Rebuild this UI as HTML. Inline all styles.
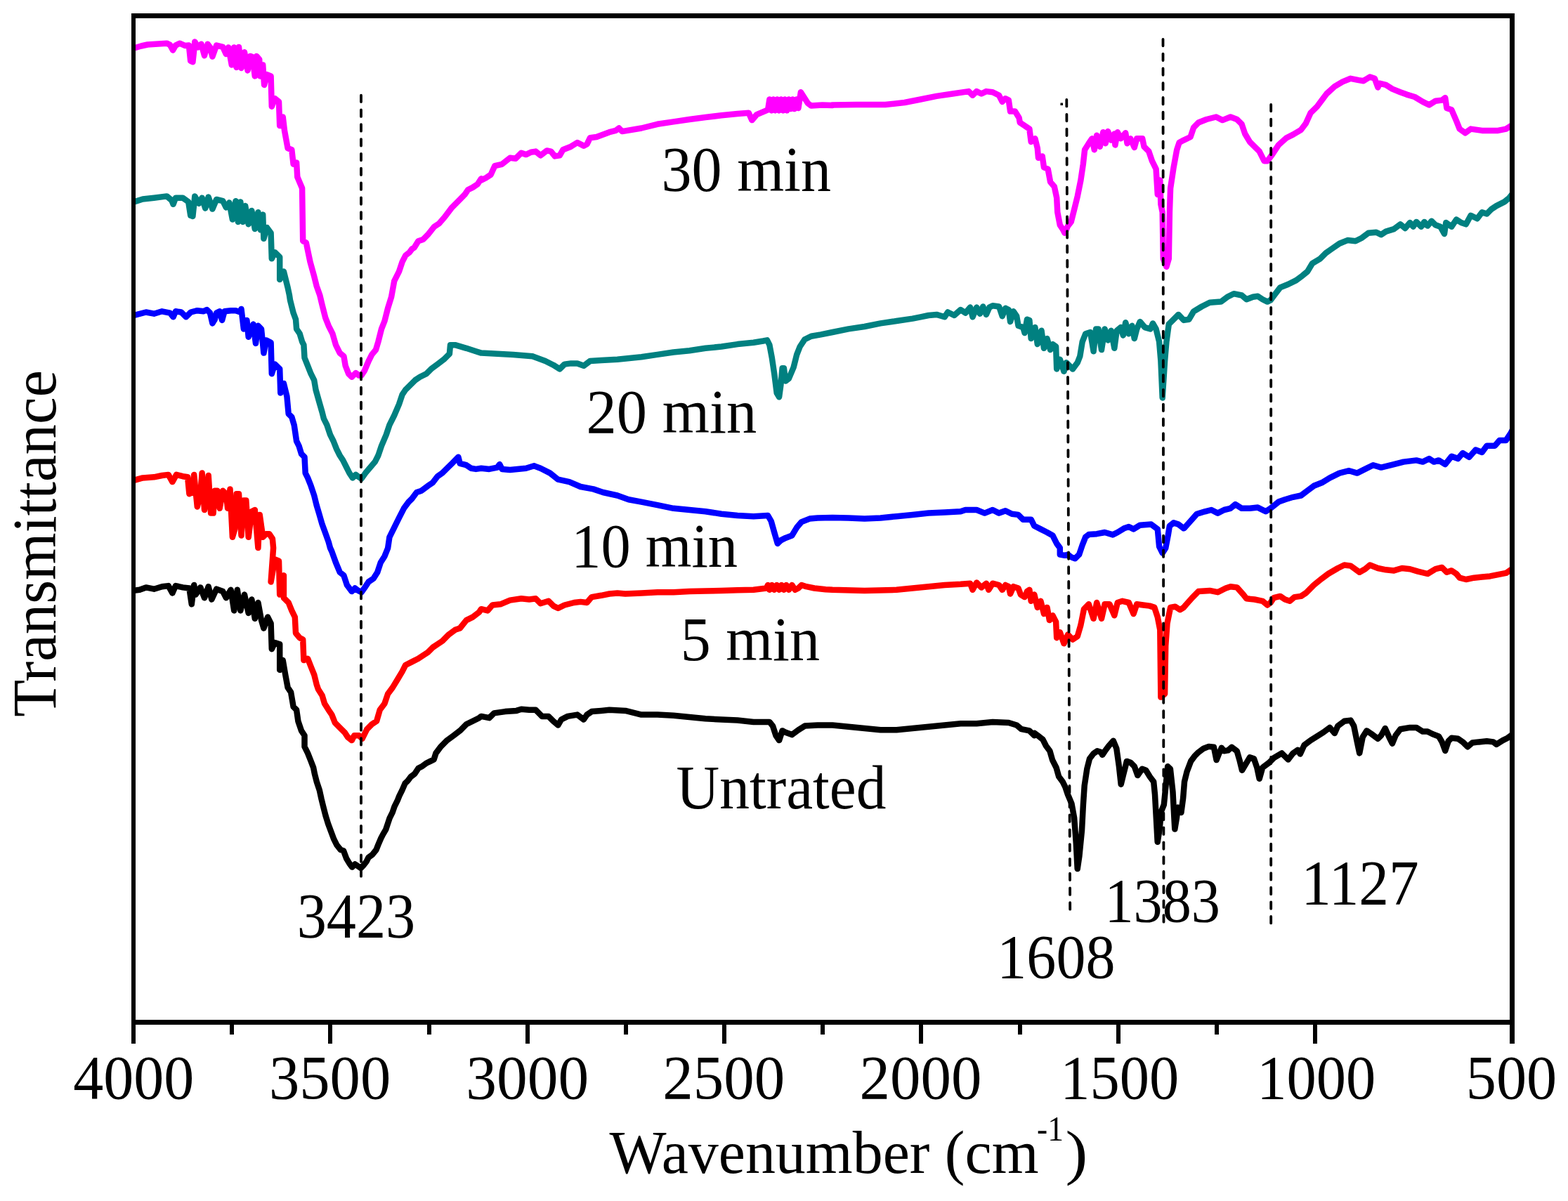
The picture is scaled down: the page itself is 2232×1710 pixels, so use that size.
<!DOCTYPE html><html><head><meta charset="utf-8"><title>FTIR spectra</title><style>html,body{margin:0;padding:0;background:#fff;}svg{display:block;}</style></head><body>
<svg width="2232" height="1710" viewBox="0 0 2232 1710">
<rect x="0" y="0" width="2232" height="1710" fill="#fff"/>
<defs><clipPath id="pa"><rect x="193" y="26" width="1956" height="1426"/></clipPath></defs>
<g clip-path="url(#pa)">
<path d="M190.7,840.9 L198.7,839.8 L207.8,836.4 L219.2,838.7 L230.6,835.2 L239.7,834.1 L245.4,844.4 L250.0,834.1 L260.2,836.4 L269.4,837.5 L272.8,860.3 L276.2,833.0 L278.5,846.6 L285.3,836.4 L291.0,851.2 L296.7,835.2 L301.3,853.5 L308.1,838.7 L317.2,842.1 L321.8,851.2 L328.6,839.8 L333.2,869.4 L337.8,839.8 L342.3,869.4 L348.0,846.6 L353.7,872.9 L358.3,853.5 L362.8,880.8 L367.4,858.0 L372.0,883.1 L375.4,894.5 L381.1,878.6 L385.6,887.7 L386.8,924.2 L391.3,915.0 L398.2,917.3 L398.2,953.8 L402.7,940.1 L406.2,960.6 L409.6,978.9 L414.1,985.7 L417.6,1006.2 L422.1,1010.8 L424.4,1026.8 L429.0,1040.4 L433.5,1047.3 L433.5,1063.2 L438.1,1072.4 L442.6,1083.8 L446.1,1092.9 L447.9,1101.9 L450.7,1112.8 L454.8,1125.1 L457.5,1137.5 L460.2,1148.4 L463.7,1162.1 L467.1,1173.0 L471.2,1184.0 L475.3,1194.9 L479.4,1203.1 L484.9,1210.0 L489.0,1211.3 L493.1,1222.3 L497.2,1229.1 L501.3,1234.6 L505.4,1230.5 L509.5,1233.2 L513.6,1236.0 L517.7,1231.8 L521.8,1226.4 L524.5,1220.9 L530.0,1216.8 L535.5,1210.0 L538.2,1203.1 L542.3,1193.5 L545.1,1188.1 L549.2,1181.2 L551.9,1173.0 L554.6,1164.8 L558.7,1156.6 L561.5,1148.4 L565.6,1140.2 L568.3,1133.4 L572.4,1125.1 L576.5,1115.6 L580.6,1111.5 L584.7,1106.0 L590.2,1101.9 L595.7,1093.7 L601.1,1090.9 L606.6,1086.8 L612.1,1084.1 L617.6,1081.4 L620.5,1072.4 L627.3,1063.2 L636.4,1054.1 L645.6,1047.3 L654.7,1040.4 L663.8,1031.3 L672.9,1026.8 L682.0,1022.2 L685.0,1019.9 L696.4,1022.2 L703.2,1015.4 L719.2,1013.1 L735.2,1011.9 L742.0,1009.7 L753.4,1010.8 L762.5,1010.8 L771.6,1019.9 L780.8,1019.9 L787.6,1026.8 L794.4,1032.5 L799.0,1024.5 L808.1,1019.9 L821.8,1017.6 L830.9,1024.5 L835.5,1017.6 L842.3,1013.1 L856.0,1011.9 L867.4,1010.8 L890.2,1011.9 L913.0,1017.6 L935.8,1017.6 L958.6,1018.8 L981.4,1021.1 L1004.2,1023.3 L1027.0,1024.5 L1049.8,1025.6 L1072.6,1027.9 L1095.4,1027.9 L1100.0,1033.6 L1104.5,1047.3 L1109.1,1054.1 L1113.6,1040.4 L1118.2,1042.7 L1127.3,1046.1 L1136.4,1039.3 L1145.6,1033.6 L1163.8,1032.5 L1185.0,1032.5 L1207.8,1034.7 L1230.6,1037.0 L1253.4,1039.3 L1276.2,1039.3 L1299.0,1037.0 L1321.8,1034.7 L1344.6,1032.5 L1367.4,1030.2 L1390.2,1030.2 L1413.0,1027.9 L1435.8,1029.0 L1447.2,1032.5 L1454.0,1038.2 L1465.4,1040.4 L1472.3,1047.3 L1472.6,1043.8 L1479.8,1049.2 L1484.4,1052.9 L1489.0,1062.0 L1494.4,1069.3 L1498.1,1082.1 L1503.6,1093.0 L1507.2,1105.8 L1512.7,1113.1 L1516.3,1120.4 L1520.0,1131.3 L1525.4,1144.1 L1529.1,1164.2 L1531.8,1200.6 L1533.7,1237.1 L1536.4,1218.9 L1540.0,1182.4 L1541.9,1145.9 L1543.7,1118.6 L1547.3,1094.8 L1551.0,1080.3 L1556.5,1073.0 L1561.9,1069.3 L1567.4,1071.1 L1569.2,1074.8 L1572.9,1069.3 L1578.3,1062.0 L1584.7,1054.7 L1589.3,1065.7 L1592.9,1091.2 L1595.7,1116.7 L1599.3,1102.1 L1603.9,1083.9 L1609.4,1085.7 L1614.8,1091.2 L1619.4,1104.0 L1625.8,1094.8 L1631.2,1096.7 L1636.7,1105.8 L1642.2,1113.1 L1644.0,1131.3 L1645.8,1164.2 L1647.7,1198.8 L1650.4,1182.4 L1653.1,1155.0 L1656.8,1145.9 L1659.5,1118.6 L1662.2,1091.2 L1665.9,1094.8 L1669.5,1127.7 L1671.4,1164.2 L1672.3,1180.6 L1675.0,1164.2 L1676.8,1149.6 L1681.4,1156.9 L1684.1,1136.8 L1686.0,1113.1 L1689.6,1098.5 L1695.1,1083.9 L1700.5,1076.6 L1706.0,1071.1 L1713.3,1065.7 L1720.6,1062.9 L1727.9,1063.8 L1731.6,1082.1 L1735.2,1073.0 L1738.9,1064.8 L1742.5,1069.3 L1748.0,1068.4 L1753.4,1063.8 L1760.7,1069.3 L1764.4,1082.1 L1768.0,1096.7 L1773.5,1087.6 L1779.0,1078.4 L1785.0,1080.3 L1789.3,1092.9 L1792.7,1108.8 L1797.2,1092.9 L1806.4,1086.0 L1813.2,1079.2 L1824.6,1072.4 L1833.7,1081.5 L1840.6,1072.4 L1847.4,1067.8 L1850.8,1073.5 L1856.5,1061.0 L1865.6,1054.1 L1874.8,1048.4 L1883.9,1042.7 L1893.0,1035.9 L1899.8,1043.9 L1904.4,1033.6 L1913.5,1026.8 L1922.6,1025.6 L1927.2,1033.6 L1931.8,1056.4 L1935.2,1072.4 L1939.7,1049.6 L1945.4,1040.4 L1952.3,1045.0 L1961.4,1051.8 L1966.0,1047.3 L1971.7,1037.0 L1977.4,1049.6 L1981.9,1058.7 L1986.5,1047.3 L1993.3,1038.2 L2007.0,1035.9 L2016.1,1035.9 L2025.2,1041.6 L2032.1,1041.6 L2038.9,1045.0 L2048.0,1048.4 L2052.6,1056.4 L2057.2,1068.9 L2061.7,1055.3 L2066.3,1050.7 L2075.4,1051.8 L2082.2,1056.4 L2089.1,1063.2 L2095.9,1057.5 L2105.0,1056.4 L2116.4,1055.3 L2125.6,1056.4 L2130.1,1059.8 L2139.2,1054.1 L2146.1,1050.7 L2150.6,1047.3" fill="none" stroke="#000000" stroke-width="8.5" stroke-linejoin="round" stroke-linecap="round"/>
<path d="M190.7,683.9 L203.2,680.4 L219.2,679.3 L230.6,677.0 L239.7,675.9 L245.4,686.1 L251.1,675.9 L260.2,678.2 L267.1,679.3 L269.4,703.2 L273.9,701.0 L276.2,675.9 L280.8,721.5 L285.3,703.2 L287.6,673.6 L291.0,726.0 L294.4,703.2 L296.7,677.0 L300.1,730.6 L303.6,730.6 L305.8,698.7 L309.3,698.7 L312.7,723.8 L317.2,698.7 L321.8,703.2 L324.1,723.8 L327.5,696.4 L330.9,764.8 L334.3,753.4 L336.6,703.2 L340.0,703.2 L343.5,762.5 L346.9,712.4 L350.3,712.4 L353.7,764.8 L358.3,728.3 L362.8,726.0 L367.4,780.1 L369.7,732.9 L374.2,764.8 L378.8,760.2 L383.4,760.2 L387.9,767.1 L389.1,780.1 L385.6,828.4 L391.3,796.5 L397.0,798.8 L398.2,846.6 L403.9,819.3 L403.9,851.2 L410.7,858.0 L415.3,869.4 L419.8,878.6 L421.0,901.4 L426.7,908.2 L431.2,910.5 L432.4,940.1 L438.1,937.8 L442.6,949.2 L447.2,960.6 L450.6,974.3 L452.9,981.2 L458.6,990.3 L462.0,1001.7 L467.7,1010.8 L472.3,1017.6 L476.8,1029.0 L483.7,1035.9 L490.5,1042.7 L495.1,1049.6 L500.8,1054.1 L504.2,1047.3 L511.0,1047.3 L515.6,1051.8 L522.4,1038.2 L529.3,1031.3 L536.1,1026.8 L540.7,1010.8 L547.5,1001.7 L552.1,988.0 L558.9,978.9 L565.8,967.5 L572.6,956.1 L577.2,947.0 L586.3,942.4 L595.4,937.8 L602.2,933.3 L609.1,928.7 L615.9,921.9 L622.8,917.3 L629.6,912.8 L638.7,903.6 L647.8,896.8 L654.7,894.5 L663.8,883.1 L672.9,878.6 L682.0,871.7 L685.0,867.2 L694.1,869.4 L701.0,861.5 L712.4,860.3 L726.0,854.6 L742.0,852.3 L753.4,853.5 L762.5,852.3 L769.4,859.2 L780.8,855.8 L787.6,862.6 L794.4,866.0 L803.6,861.5 L817.2,858.0 L826.4,856.9 L835.5,858.0 L842.3,850.1 L856.0,847.8 L867.4,845.5 L878.8,844.4 L890.2,845.5 L913.0,844.4 L935.8,843.2 L958.6,843.2 L981.4,842.1 L1004.2,841.6 L1027.0,840.9 L1049.8,840.3 L1072.6,839.8 L1090.8,837.5 L1093.1,833.0 L1095.4,839.8 L1098.8,833.0 L1102.2,839.8 L1105.7,833.0 L1109.1,839.8 L1112.5,833.0 L1115.9,839.8 L1119.3,833.0 L1122.8,839.8 L1127.3,833.0 L1131.9,839.8 L1136.4,837.5 L1141.0,833.0 L1147.8,835.2 L1159.2,837.5 L1175.2,839.3 L1185.0,839.8 L1230.6,840.9 L1276.2,839.8 L1299.0,837.5 L1321.8,835.2 L1344.6,833.0 L1367.4,831.8 L1381.1,830.7 L1384.5,839.8 L1390.2,829.5 L1397.0,836.4 L1403.9,830.7 L1407.3,839.8 L1413.0,830.7 L1422.1,833.0 L1426.7,839.8 L1431.2,833.0 L1435.8,835.2 L1438.1,845.5 L1442.6,835.2 L1449.5,837.5 L1452.9,846.6 L1458.6,850.1 L1462.0,842.1 L1465.4,839.8 L1467.7,855.8 L1472.3,846.6 L1476.8,864.9 L1481.4,855.8 L1486.0,874.0 L1490.5,864.9 L1493.9,883.1 L1498.5,876.3 L1503.1,885.4 L1504.2,908.2 L1508.8,900.2 L1514.5,916.2 L1520.2,903.6 L1527.0,910.5 L1533.8,905.9 L1538.4,890.0 L1543.0,867.2 L1549.8,860.3 L1556.6,880.8 L1561.2,858.0 L1568.0,880.8 L1572.6,860.3 L1579.4,860.3 L1586.3,876.3 L1590.8,858.0 L1597.7,855.8 L1606.8,858.0 L1613.6,874.0 L1618.2,860.3 L1627.3,861.5 L1636.4,862.6 L1643.3,864.9 L1647.8,878.6 L1651.3,896.8 L1652.4,992.6 L1658.1,988.0 L1659.2,919.6 L1661.5,887.7 L1666.1,864.9 L1672.9,863.7 L1679.8,868.3 L1685.0,864.9 L1687.8,861.5 L1696.9,851.2 L1706.0,842.1 L1722.0,840.9 L1733.4,843.2 L1744.8,837.5 L1751.6,835.2 L1760.8,836.4 L1769.9,846.6 L1774.4,852.3 L1785.8,853.5 L1797.2,855.8 L1804.1,861.5 L1808.6,858.0 L1813.2,851.2 L1822.3,848.9 L1829.2,853.5 L1836.0,855.8 L1842.8,850.1 L1852.0,848.9 L1858.8,844.4 L1870.2,833.0 L1881.6,823.8 L1890.7,817.0 L1904.4,809.0 L1913.5,804.5 L1922.6,805.6 L1935.2,814.7 L1943.2,810.2 L1950.0,804.5 L1961.4,809.0 L1972.8,811.3 L1984.2,812.4 L1995.6,809.0 L2007.0,810.2 L2018.4,813.6 L2032.1,817.0 L2043.5,810.2 L2052.6,807.9 L2059.4,814.7 L2066.3,812.4 L2073.1,817.0 L2077.7,822.7 L2086.8,825.0 L2098.2,822.7 L2109.6,821.6 L2121.0,820.4 L2132.4,818.1 L2143.8,815.9 L2150.6,811.3" fill="none" stroke="#ff0000" stroke-width="8.5" stroke-linejoin="round" stroke-linecap="round"/>
<path d="M190.7,449.0 L207.8,444.5 L219.2,446.7 L230.6,443.3 L242.0,445.6 L246.6,451.3 L250.0,443.3 L258.0,444.5 L264.8,451.3 L271.6,444.5 L280.8,442.2 L289.9,443.3 L294.4,441.0 L299.0,445.6 L302.4,460.4 L305.8,454.7 L308.1,445.6 L312.7,443.3 L316.1,455.9 L319.5,443.3 L328.6,442.2 L335.5,442.2 L342.3,444.5 L343.5,439.9 L346.9,468.4 L351.4,455.9 L353.7,479.8 L360.6,461.6 L364.0,488.9 L367.4,463.8 L372.0,468.4 L375.4,502.6 L378.8,484.4 L385.6,487.8 L386.8,532.2 L391.3,518.6 L398.2,525.4 L399.3,559.6 L403.9,545.9 L408.4,564.2 L410.7,589.2 L415.3,593.8 L418.7,605.2 L422.1,628.0 L425.5,634.8 L429.0,646.2 L433.5,650.8 L434.7,673.6 L438.1,680.4 L442.6,691.8 L447.2,705.5 L450.6,719.2 L454.0,730.6 L458.6,746.6 L462.0,755.7 L467.7,771.6 L470.0,780.1 L472.3,785.1 L478.0,801.0 L483.7,814.7 L489.4,819.3 L493.9,833.0 L500.8,842.1 L505.3,837.5 L509.9,840.9 L514.5,843.2 L520.2,835.2 L524.7,828.4 L531.6,823.8 L537.3,814.7 L541.8,801.0 L547.5,791.9 L552.1,780.5 L554.4,764.8 L561.2,751.1 L568.0,737.4 L574.9,723.8 L581.7,714.6 L586.3,710.1 L593.1,701.0 L600.0,698.7 L609.1,691.8 L615.9,687.3 L622.8,678.2 L629.6,673.6 L636.4,666.8 L643.3,659.9 L650.1,653.1 L652.4,650.8 L654.7,659.9 L663.8,662.2 L670.6,666.8 L677.5,667.9 L685.0,666.8 L696.4,667.9 L707.8,665.6 L711.2,661.1 L714.6,667.9 L726.0,669.0 L748.8,666.8 L760.2,663.3 L769.4,666.8 L783.0,673.6 L794.4,682.7 L810.4,686.1 L826.4,693.0 L844.6,696.4 L858.3,701.0 L878.8,705.5 L894.8,711.2 L913.0,714.6 L935.8,719.2 L958.6,723.8 L981.4,726.0 L1004.2,728.3 L1027.0,731.7 L1049.8,734.0 L1072.6,735.2 L1093.1,734.0 L1097.7,742.0 L1102.2,758.0 L1106.8,773.9 L1111.4,769.4 L1118.2,765.9 L1127.3,762.5 L1134.2,751.1 L1141.0,743.1 L1152.4,738.6 L1163.8,737.4 L1185.0,737.0 L1207.8,737.4 L1230.6,738.6 L1253.4,737.4 L1276.2,735.2 L1299.0,732.9 L1310.4,731.7 L1321.8,730.6 L1344.6,729.5 L1367.4,728.3 L1374.2,726.0 L1390.2,726.0 L1401.6,730.6 L1413.0,726.0 L1422.1,730.6 L1431.2,727.2 L1440.4,731.7 L1449.5,732.9 L1456.3,739.7 L1467.7,739.7 L1472.3,748.8 L1481.4,753.4 L1490.5,758.0 L1498.5,762.5 L1504.2,773.9 L1508.8,780.1 L1508.8,789.6 L1515.6,790.8 L1520.2,789.6 L1524.7,793.1 L1530.4,795.3 L1536.1,789.6 L1540.7,776.0 L1545.2,764.6 L1549.8,761.1 L1561.2,760.2 L1572.6,758.0 L1584.0,761.4 L1590.8,758.0 L1600.0,752.3 L1606.8,750.0 L1613.6,753.4 L1622.8,747.7 L1638.7,746.6 L1647.8,753.4 L1650.1,778.2 L1654.7,787.4 L1659.2,780.5 L1662.7,762.3 L1664.9,748.8 L1670.6,744.3 L1677.5,746.6 L1685.0,752.3 L1685.5,752.3 L1694.6,742.0 L1703.8,731.7 L1715.2,728.3 L1724.3,726.0 L1733.4,730.6 L1742.5,726.0 L1751.6,723.8 L1758.5,718.1 L1767.6,723.8 L1779.0,723.8 L1790.4,722.6 L1801.8,728.3 L1808.6,723.8 L1820.0,714.6 L1829.2,711.2 L1840.6,707.8 L1852.0,705.5 L1861.1,698.7 L1870.2,691.8 L1881.6,687.3 L1893.0,680.4 L1906.7,673.6 L1920.4,670.2 L1931.8,673.6 L1943.2,667.9 L1954.6,662.2 L1966.0,665.6 L1984.2,661.1 L1997.9,657.6 L2016.1,655.4 L2025.2,657.6 L2034.4,653.1 L2041.2,657.6 L2048.0,655.4 L2057.2,661.1 L2066.3,649.7 L2075.4,653.1 L2082.2,645.1 L2091.4,650.8 L2100.5,640.5 L2109.6,644.0 L2116.4,634.8 L2127.8,634.8 L2134.7,626.9 L2143.8,626.9 L2150.6,616.6 L2152.9,612.0" fill="none" stroke="#0000ff" stroke-width="8.5" stroke-linejoin="round" stroke-linecap="round"/>
<path d="M190.7,287.4 L203.2,283.5 L219.2,281.7 L237.4,279.4 L244.3,285.1 L246.6,290.8 L250.0,281.7 L260.2,281.7 L268.2,287.4 L271.2,306.8 L274.4,307.9 L276.2,290.8 L277.3,279.4 L283.0,289.7 L287.6,281.7 L292.2,296.5 L296.7,280.5 L302.4,297.6 L308.1,284.0 L317.2,286.2 L321.8,295.4 L326.4,288.5 L330.9,312.5 L335.5,286.2 L338.9,315.9 L342.3,287.4 L345.7,315.9 L349.2,293.1 L353.7,319.3 L358.3,299.9 L362.8,326.1 L367.4,302.2 L370.8,327.3 L374.2,305.6 L375.4,339.8 L379.9,323.9 L385.6,331.8 L386.8,368.3 L391.3,359.2 L398.2,366.0 L398.2,398.0 L403.9,386.6 L409.6,409.4 L411.9,420.1 L413.0,427.4 L417.6,445.6 L421.0,454.7 L422.1,468.4 L426.7,475.2 L430.1,486.6 L432.4,491.2 L433.5,509.4 L438.1,520.8 L442.6,532.2 L447.2,541.4 L449.5,555.0 L454.0,571.0 L458.6,587.0 L460.9,596.1 L465.4,605.2 L470.0,618.9 L474.6,628.0 L479.1,639.4 L483.7,648.5 L488.2,655.4 L492.8,664.5 L497.4,673.6 L501.9,680.4 L506.5,675.9 L511.0,679.3 L514.5,681.6 L520.2,673.6 L527.0,665.6 L533.8,657.6 L538.4,648.5 L543.0,634.8 L549.8,618.9 L554.4,605.2 L561.2,591.5 L568.0,575.6 L572.6,561.9 L577.2,555.0 L584.0,548.2 L590.8,541.4 L597.7,536.8 L606.8,532.2 L613.6,525.4 L622.8,518.6 L631.9,511.7 L639.9,503.7 L641.0,491.2 L647.8,491.2 L663.8,495.8 L677.5,500.3 L685.0,502.6 L707.8,503.7 L730.6,504.9 L758.0,507.2 L776.2,514.0 L787.6,519.7 L796.7,525.4 L803.6,518.6 L812.7,517.4 L821.8,517.4 L830.9,520.8 L840.0,514.0 L856.0,512.9 L878.8,511.7 L913.0,508.3 L935.8,504.9 L958.6,501.5 L981.4,499.2 L1004.2,495.8 L1027.0,493.5 L1049.8,490.1 L1072.6,487.8 L1086.3,485.5 L1092.0,484.4 L1095.4,491.2 L1098.8,509.4 L1102.2,532.2 L1105.7,559.6 L1109.1,565.3 L1111.4,548.2 L1113.6,524.3 L1115.9,524.3 L1118.2,542.5 L1122.8,539.1 L1129.6,523.1 L1134.2,504.9 L1138.7,493.5 L1145.6,483.2 L1154.7,478.7 L1168.4,476.4 L1185.0,473.0 L1207.8,468.4 L1230.6,465.0 L1253.4,460.4 L1276.2,457.0 L1299.0,453.6 L1310.4,451.3 L1321.8,449.0 L1333.2,447.9 L1344.6,451.3 L1349.2,444.5 L1358.3,449.0 L1367.4,441.0 L1374.2,445.6 L1381.1,437.6 L1384.5,451.3 L1390.2,437.6 L1394.8,446.7 L1399.3,436.5 L1403.9,447.9 L1408.4,437.6 L1413.0,435.3 L1422.1,436.5 L1426.7,450.2 L1431.2,438.8 L1435.8,441.0 L1438.1,458.1 L1442.6,443.3 L1447.2,450.2 L1449.5,463.8 L1456.3,466.1 L1458.6,474.1 L1462.0,454.7 L1465.4,455.9 L1467.7,482.1 L1473.4,466.1 L1476.8,490.1 L1482.5,470.7 L1486.0,495.8 L1490.5,482.1 L1495.1,498.0 L1498.5,490.1 L1503.1,493.5 L1504.2,525.4 L1508.8,511.7 L1514.5,528.8 L1517.9,516.3 L1522.4,520.8 L1527.0,525.4 L1533.8,516.3 L1537.3,507.2 L1540.7,486.6 L1545.2,475.2 L1552.1,473.0 L1556.6,500.3 L1560.1,468.4 L1563.5,468.4 L1568.0,498.0 L1572.6,468.4 L1577.2,484.4 L1581.7,470.7 L1586.3,495.8 L1589.7,470.7 L1595.4,466.1 L1598.8,477.5 L1602.2,459.3 L1606.8,475.2 L1611.4,463.8 L1614.8,482.1 L1618.2,468.4 L1622.8,458.1 L1629.6,466.1 L1637.6,468.4 L1641.0,460.4 L1645.6,468.4 L1650.1,486.6 L1652.4,514.0 L1654.7,566.4 L1658.1,514.0 L1660.4,486.6 L1663.8,461.6 L1670.6,454.7 L1677.5,447.9 L1685.0,455.9 L1692.4,454.7 L1699.2,443.3 L1710.6,436.5 L1722.0,430.8 L1738.0,429.6 L1747.1,422.8 L1756.2,418.2 L1767.6,420.5 L1774.4,426.2 L1783.6,422.8 L1790.4,421.7 L1797.2,426.2 L1804.1,429.6 L1808.6,427.4 L1815.5,418.2 L1822.3,409.4 L1833.7,404.8 L1845.1,399.1 L1854.2,392.3 L1861.1,386.6 L1867.9,375.2 L1879.3,368.3 L1887.3,360.3 L1895.3,354.6 L1906.7,346.7 L1918.1,342.1 L1929.5,343.2 L1938.6,338.7 L1947.7,331.8 L1959.1,330.7 L1966.0,334.1 L1972.8,329.6 L1984.2,326.1 L1993.3,319.3 L2000.2,325.0 L2007.0,317.0 L2011.6,322.7 L2016.1,315.9 L2023.0,322.7 L2027.5,315.9 L2032.1,321.6 L2037.8,314.7 L2043.5,320.4 L2050.3,322.7 L2056.0,333.0 L2058.3,317.0 L2066.3,322.7 L2073.1,312.5 L2080.0,317.0 L2086.8,319.3 L2093.6,306.8 L2102.8,311.3 L2109.6,302.2 L2116.4,304.5 L2123.3,297.6 L2130.1,293.1 L2141.5,287.4 L2148.4,281.7 L2152.9,276.0" fill="none" stroke="#008080" stroke-width="8.5" stroke-linejoin="round" stroke-linecap="round"/>
<path d="M190.7,68.5 L201.0,65.5 L210.1,63.5 L221.5,62.8 L237.4,61.7 L242.0,63.9 L246.1,71.5 L250.0,64.6 L255.7,61.7 L263.7,65.1 L268.9,64.6 L271.2,86.7 L274.4,88.3 L276.2,71.9 L277.3,59.4 L281.9,67.4 L286.5,62.8 L291.0,79.2 L295.6,62.8 L299.0,67.4 L302.4,80.6 L308.1,64.6 L317.2,66.9 L321.8,76.9 L325.2,67.4 L329.8,92.4 L333.2,67.4 L336.6,95.9 L340.0,66.9 L343.5,97.0 L348.0,74.2 L352.6,100.4 L356.0,79.9 L359.4,81.0 L362.8,108.4 L365.1,79.9 L369.2,84.5 L370.1,108.4 L374.2,92.4 L376.1,120.9 L379.9,106.1 L385.6,108.4 L386.8,151.7 L391.3,140.3 L397.0,144.9 L398.2,179.1 L402.7,166.5 L405.0,185.9 L409.6,211.0 L415.3,213.3 L417.6,233.8 L422.1,231.5 L423.3,252.0 L430.1,268.0 L431.2,343.2 L435.8,345.5 L441.5,372.9 L447.2,393.4 L450.6,407.1 L455.2,420.1 L458.6,434.2 L463.2,452.4 L467.7,463.8 L473.4,475.2 L478.0,491.2 L483.7,502.6 L489.4,507.2 L491.7,520.8 L496.2,532.2 L500.8,536.8 L506.5,531.1 L511.0,534.5 L514.5,534.5 L519.0,527.7 L524.7,514.0 L529.3,504.9 L535.0,498.0 L538.4,486.6 L543.0,468.4 L547.5,457.0 L552.1,438.8 L557.1,422.8 L561.2,400.2 L568.0,386.6 L572.6,372.9 L577.2,363.8 L582.9,359.2 L586.3,354.6 L589.7,352.4 L595.4,343.2 L602.2,341.0 L609.1,334.1 L618.2,322.7 L625.0,318.2 L633.0,309.0 L643.3,295.4 L654.7,284.0 L661.5,277.1 L666.1,270.3 L672.9,266.9 L679.8,262.3 L685.0,254.3 L685.0,256.6 L691.8,253.2 L698.7,248.6 L704.4,236.1 L714.6,233.8 L726.0,224.7 L734.0,225.8 L742.0,217.8 L748.8,220.1 L755.7,216.7 L762.5,215.6 L769.4,221.3 L778.5,214.4 L784.2,215.6 L789.9,222.4 L796.7,221.3 L801.3,213.3 L812.7,208.7 L821.8,203.0 L830.9,207.6 L835.5,205.3 L840.0,196.2 L849.2,195.0 L867.4,188.2 L876.5,185.9 L881.1,182.5 L885.6,187.1 L913.0,182.5 L935.8,176.8 L958.6,173.4 L981.4,170.0 L1004.2,167.0 L1027.0,164.3 L1049.8,162.0 L1065.8,160.8 L1070.3,171.1 L1077.2,163.1 L1093.1,156.3 L1095.4,141.5 L1098.1,157.4 L1100.9,141.5 L1103.6,157.4 L1106.3,141.5 L1109.1,157.4 L1111.8,141.5 L1114.5,157.4 L1117.3,141.5 L1120.0,157.4 L1122.8,141.5 L1125.5,155.1 L1128.2,141.5 L1131.0,155.1 L1133.7,141.5 L1136.4,154.0 L1139.9,131.2 L1150.1,147.2 L1154.7,150.6 L1170.6,149.4 L1185.0,150.1 L1185.0,149.4 L1219.2,149.0 L1260.2,149.0 L1287.6,146.0 L1310.4,141.5 L1333.2,136.9 L1356.0,133.5 L1378.8,130.1 L1384.5,135.8 L1390.2,130.1 L1397.0,133.5 L1403.9,130.1 L1413.0,131.2 L1422.1,135.8 L1426.7,144.9 L1431.2,140.3 L1435.8,142.6 L1438.1,158.6 L1444.9,158.6 L1450.6,167.7 L1451.8,174.5 L1458.6,179.1 L1465.4,183.6 L1467.7,201.9 L1473.4,197.3 L1476.8,211.0 L1478.0,224.7 L1483.7,222.4 L1486.0,238.4 L1491.7,240.6 L1495.1,258.9 L1500.8,265.7 L1504.2,281.7 L1505.3,302.2 L1508.8,320.4 L1513.3,327.3 L1515.6,331.8 L1520.2,321.6 L1524.7,315.9 L1529.3,297.6 L1533.8,279.4 L1538.4,256.6 L1541.8,233.8 L1544.1,213.3 L1549.8,204.2 L1554.4,197.3 L1557.8,213.3 L1561.2,192.8 L1565.8,208.7 L1570.3,188.2 L1573.7,204.2 L1577.2,187.1 L1581.7,199.6 L1586.3,190.5 L1587.4,206.4 L1590.8,188.2 L1595.4,197.3 L1602.2,189.3 L1604.5,204.2 L1609.1,197.3 L1614.8,209.9 L1618.2,197.3 L1626.2,197.3 L1628.5,208.7 L1635.3,215.6 L1639.9,229.2 L1645.6,240.6 L1647.8,277.1 L1651.3,256.6 L1652.4,290.8 L1654.7,302.2 L1655.8,368.3 L1660.4,379.7 L1663.8,368.3 L1664.9,302.2 L1666.1,268.0 L1670.6,238.4 L1675.2,213.3 L1678.6,203.0 L1685.0,199.6 L1694.6,195.0 L1699.2,181.4 L1706.0,174.5 L1717.4,170.0 L1731.1,166.5 L1740.2,171.1 L1751.6,166.5 L1760.8,170.0 L1767.6,176.8 L1772.2,190.5 L1779.0,201.9 L1785.8,208.7 L1792.7,215.6 L1799.5,229.2 L1804.1,229.2 L1810.9,220.1 L1820.0,206.4 L1831.4,196.2 L1840.6,191.6 L1852.0,184.8 L1858.8,175.7 L1865.6,160.8 L1874.8,151.7 L1881.6,142.6 L1888.4,133.5 L1899.8,123.2 L1911.2,116.4 L1922.6,111.8 L1934.0,114.1 L1940.9,115.2 L1950.0,109.5 L1956.8,111.8 L1961.4,124.4 L1963.7,118.7 L1972.8,120.9 L1981.9,126.6 L1993.3,131.2 L2002.4,134.6 L2013.8,138.0 L2025.2,144.9 L2034.4,149.4 L2043.5,143.7 L2052.6,142.6 L2057.2,139.2 L2059.4,154.0 L2066.3,156.3 L2073.1,172.2 L2077.7,183.6 L2085.7,189.3 L2093.6,183.6 L2109.6,185.9 L2132.4,185.9 L2143.8,183.6 L2152.9,177.9" fill="none" stroke="#ff00ff" stroke-width="8.5" stroke-linejoin="round" stroke-linecap="round"/>
</g>
<line x1="514" y1="135.65" x2="514" y2="1247.70" stroke="#000" stroke-width="3.8" stroke-dasharray="9.45 11.354" stroke-linecap="round"/>
<line x1="1518.3" y1="142.00" x2="1523.2" y2="1294.70" stroke="#000" stroke-width="3.8" stroke-dasharray="9.45 11.336" stroke-linecap="round"/>
<line x1="1655.5" y1="55.80" x2="1656.5" y2="1312.70" stroke="#000" stroke-width="3.8" stroke-dasharray="9.45 11.341" stroke-linecap="round"/>
<line x1="1809.2" y1="148.90" x2="1809.2" y2="1314.40" stroke="#000" stroke-width="3.8" stroke-dasharray="9.45 11.194" stroke-linecap="round"/>
<rect x="1509.5" y="146.5" width="3.5" height="3.5" fill="#000"/>
<g fill="#000" shape-rendering="crispEdges"><rect x="187" y="19" width="1969" height="7"/><rect x="187" y="1452" width="1969" height="7"/><rect x="187" y="19" width="6" height="1467"/><rect x="2149" y="19" width="7" height="1467"/><rect x="327" y="1455" width="6" height="18"/><rect x="467" y="1455" width="6" height="31"/><rect x="608" y="1455" width="6" height="18"/><rect x="748" y="1455" width="6" height="31"/><rect x="888" y="1455" width="6" height="18"/><rect x="1028" y="1455" width="6" height="31"/><rect x="1168" y="1455" width="6" height="18"/><rect x="1308" y="1455" width="6" height="31"/><rect x="1449" y="1455" width="6" height="18"/><rect x="1589" y="1455" width="6" height="31"/><rect x="1729" y="1455" width="6" height="18"/><rect x="1869" y="1455" width="6" height="31"/></g>
<text transform="matrix(0.8603,0,0,0.8916,104.24,1563.92)" font-family="Liberation Serif, serif" font-size="100" fill="#000">4000</text>
<text transform="matrix(0.8665,0,0,0.8916,382.97,1563.92)" font-family="Liberation Serif, serif" font-size="100" fill="#000">3500</text>
<text transform="matrix(0.8743,0,0,0.8916,663.33,1563.92)" font-family="Liberation Serif, serif" font-size="100" fill="#000">3000</text>
<text transform="matrix(0.8698,0,0,0.8916,943.32,1563.92)" font-family="Liberation Serif, serif" font-size="100" fill="#000">2500</text>
<text transform="matrix(0.8698,0,0,0.8916,1223.62,1563.92)" font-family="Liberation Serif, serif" font-size="100" fill="#000">2000</text>
<text transform="matrix(0.8449,0,0,0.8785,1509.30,1563.94)" font-family="Liberation Serif, serif" font-size="100" fill="#000">1500</text>
<text transform="matrix(0.8449,0,0,0.8785,1789.30,1563.94)" font-family="Liberation Serif, serif" font-size="100" fill="#000">1000</text>
<text transform="matrix(0.8629,0,0,0.8916,2086.82,1563.92)" font-family="Liberation Serif, serif" font-size="100" fill="#000">500</text>
<text transform="matrix(0.8606,0,0,0.9045,941.60,272.49)" font-family="Liberation Serif, serif" font-size="100" fill="#000">30 min</text>
<text transform="matrix(0.8651,0,0,0.8985,834.54,616.40)" font-family="Liberation Serif, serif" font-size="100" fill="#000">20 min</text>
<text transform="matrix(0.8444,0,0,0.8853,813.20,807.33)" font-family="Liberation Serif, serif" font-size="100" fill="#000">10 min</text>
<text transform="matrix(0.8601,0,0,0.8955,968.74,940.10)" font-family="Liberation Serif, serif" font-size="100" fill="#000">5 min</text>
<text transform="matrix(0.8545,0,0,0.8843,962.59,1150.92)" font-family="Liberation Serif, serif" font-size="100" fill="#000">Untrated</text>
<text transform="matrix(0.8429,0,0,0.9091,422.69,1334.99)" font-family="Liberation Serif, serif" font-size="100" fill="#000">3423</text>
<text transform="matrix(0.8406,0,0,0.8853,1419.33,1392.13)" font-family="Liberation Serif, serif" font-size="100" fill="#000">1608</text>
<text transform="matrix(0.8225,0,0,0.8824,1572.50,1312.14)" font-family="Liberation Serif, serif" font-size="100" fill="#000">1383</text>
<text transform="matrix(0.8533,0,0,0.9045,1852.22,1287.50)" font-family="Liberation Serif, serif" font-size="100" fill="#000">1127</text>
<text transform="matrix(0.8594,0,0,0.8756,867.40,1670.31)" font-family="Liberation Serif, serif" font-size="100" fill="#000">Wavenumber (cm</text>
<text transform="matrix(0.4548,0,0,0.5091,1476.08,1623.80)" font-family="Liberation Serif, serif" font-size="100" fill="#000">-1</text>
<text transform="matrix(0.9538,0,0,0.8756,1516.54,1670.31)" font-family="Liberation Serif, serif" font-size="100" fill="#000">)</text>
<text transform="matrix(0,-0.8686,0.8923,0,78.90,1020.74)" font-family="Liberation Serif, serif" font-size="100">Transmittance</text>
</svg></body></html>
